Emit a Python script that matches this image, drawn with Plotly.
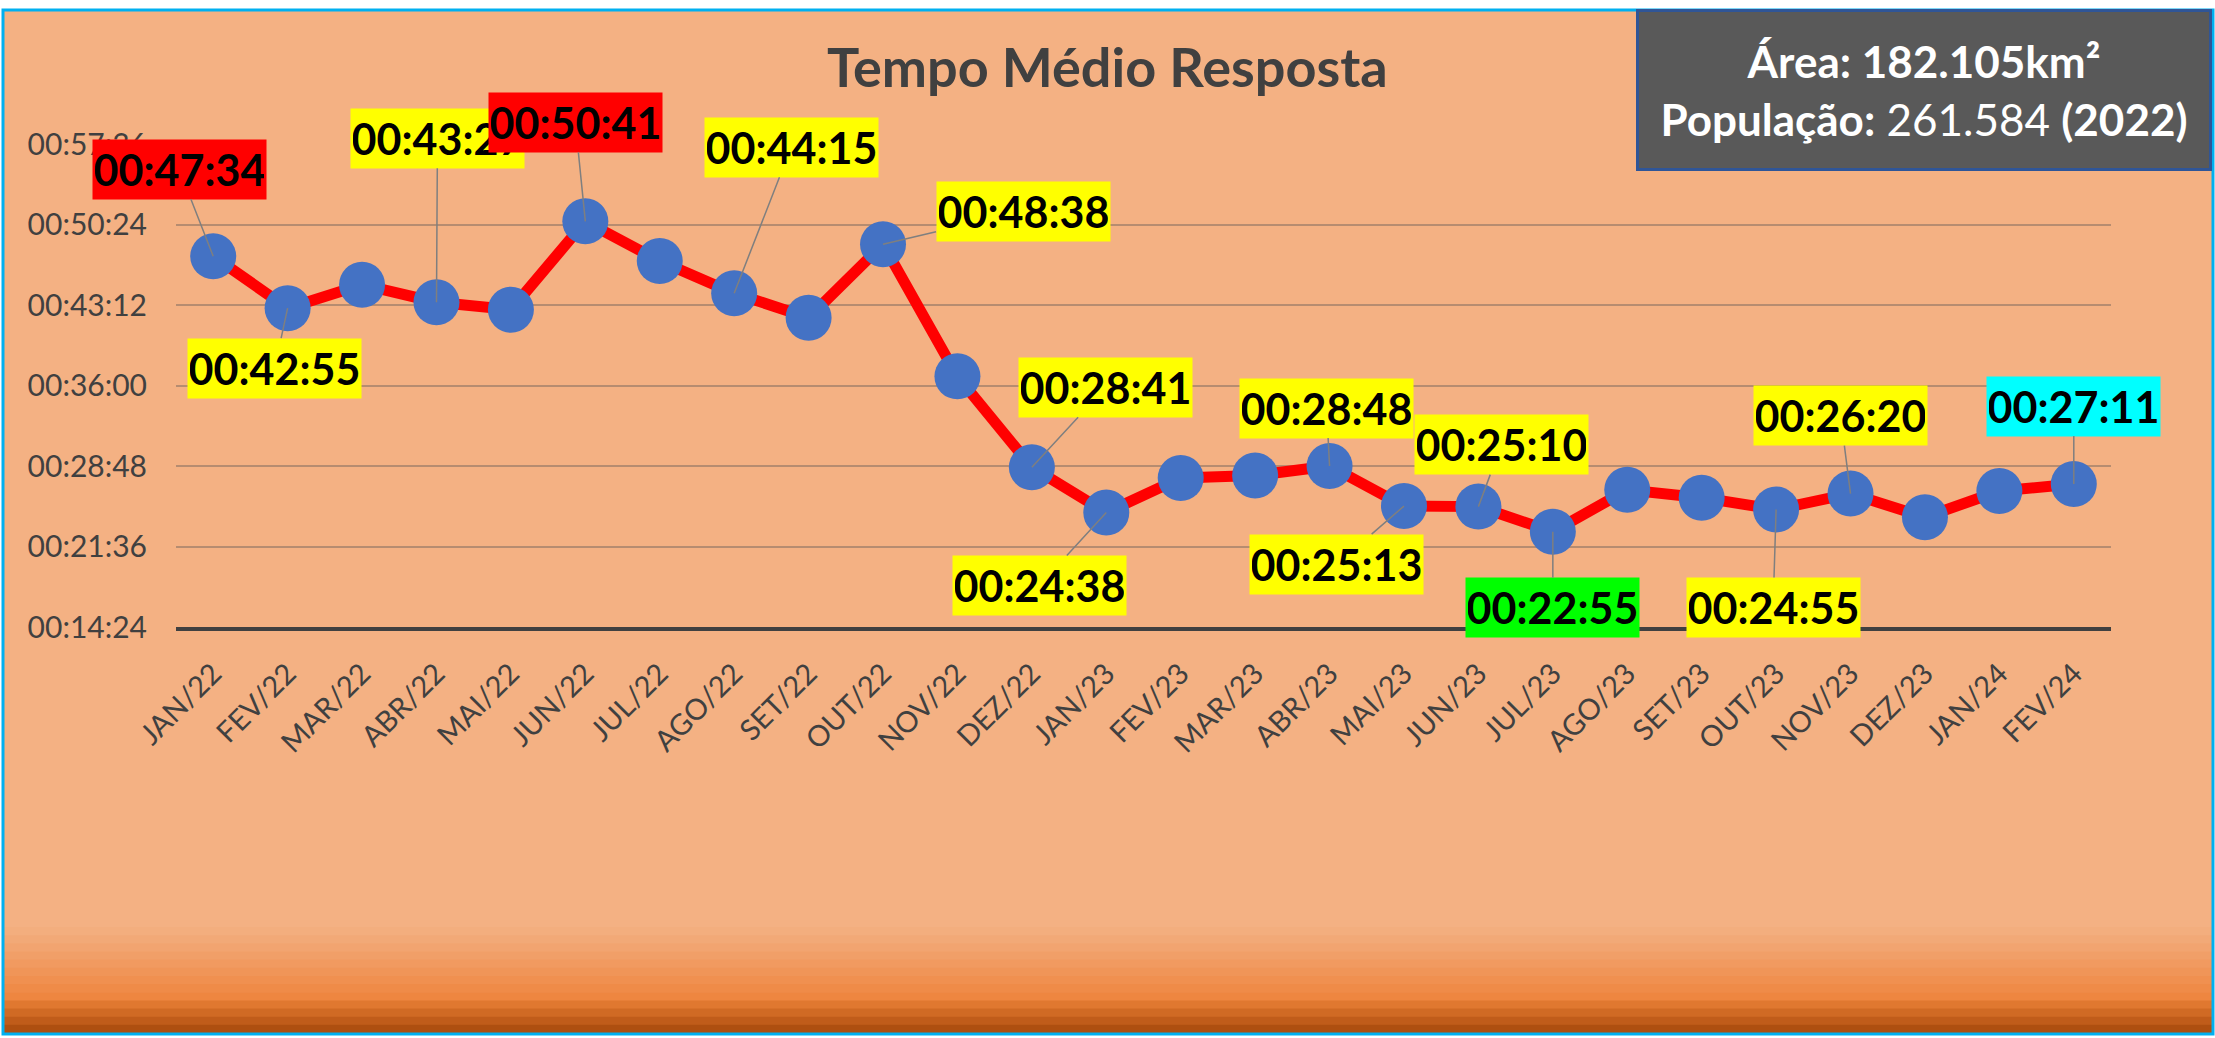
import plotly.graph_objects as go

# ---------------- data ----------------
months = ["JAN/22", "FEV/22", "MAR/22", "ABR/22", "MAI/22", "JUN/22", "JUL/22", "AGO/22",
          "SET/22", "OUT/22", "NOV/22", "DEZ/22", "JAN/23", "FEV/23", "MAR/23", "ABR/23",
          "MAI/23", "JUN/23", "JUL/23", "AGO/23", "SET/23", "OUT/23", "NOV/23", "DEZ/23",
          "JAN/24", "FEV/24"]
tempo = ["00:47:34", "00:42:55", "00:45:01", "00:43:27", "00:42:47", "00:50:41", "00:47:08",
         "00:44:15", "00:42:04", "00:48:38", "00:36:49", "00:28:41", "00:24:38", "00:27:44",
         "00:27:57", "00:28:48", "00:25:13", "00:25:10", "00:22:55", "00:26:40", "00:25:58",
         "00:24:55", "00:26:20", "00:24:13", "00:26:34", "00:27:11"]
y_tick_labels = ["00:14:24", "00:21:36", "00:28:48", "00:36:00", "00:43:12", "00:50:24", "00:57:36"]

# label background colour per labelled month
label_colors = {
    "JAN/22": "#FF0000", "FEV/22": "#FFFF00", "ABR/22": "#FFFF00", "JUN/22": "#FF0000",
    "AGO/22": "#FFFF00", "OUT/22": "#FFFF00", "DEZ/22": "#FFFF00", "JAN/23": "#FFFF00",
    "ABR/23": "#FFFF00", "MAI/23": "#FFFF00", "JUN/23": "#FFFF00", "JUL/23": "#00FF00",
    "OUT/23": "#FFFF00", "NOV/23": "#FFFF00", "FEV/24": "#00FFFF",
}

title_text = "Tempo Médio Resposta"
info_line1 = "<b>Área: 182.105km²</b>"
info_line2 = "<b>População:</b> 261.584 <b>(2022)</b>"

# ---------------- layout / style (positions, not data) ----------------
W, H = 2215, 1038
PL, PR, PT, PB = 176, 2111, 144, 627          # plot area in pixels
label_offsets = {  # pixel offsets of label box centre from point
    "JAN/22": (-34, -87), "FEV/22": (-13, 60), "ABR/22": (1, -164), "JUN/22": (-10, -99),
    "AGO/22": (57, -146), "OUT/22": (140, -33), "DEZ/22": (74, -80), "JAN/23": (-67, 73),
    "ABR/23": (-3, -58), "MAI/23": (-67, 58), "JUN/23": (23, -62), "JUL/23": (0, 76),
    "OUT/23": (-3, 98), "NOV/23": (-10, -78), "FEV/24": (0, -78),
}
gradient_colors = ["#F3AE7E", "#F2A977", "#F2A470", "#F19F68", "#F19A60", "#F09558",
                   "#F09050", "#EF8B48", "#EE8640", "#E07830", "#D06A24", "#C05C1A", "#AE4F10"]
FONT = "Lato"


def to_sec(s):
    h, m, sec = (int(p) for p in s.split(":"))
    return h * 3600 + m * 60 + sec


def px_x(p):
    return (p - PL) / (PR - PL)


def px_y(p):
    return (PB - p) / (PB - PT)


secs = [to_sec(t) for t in tempo]
tickvals = [to_sec(t) for t in y_tick_labels]

fig = go.Figure()
fig.add_trace(go.Scatter(
    x=months, y=secs, mode="lines+markers",
    line=dict(color="#FF0000", width=11),
    marker=dict(color="#4472C4", size=46, line=dict(width=0)),
    hoverinfo="skip", showlegend=False,
))

shapes = []
# chart frame background
shapes.append(dict(type="rect", xref="paper", yref="paper", layer="below",
                   x0=px_x(3), x1=px_x(2213), y0=px_y(1034), y1=px_y(10),
                   fillcolor="#F4B183", line=dict(width=0)))
# bottom gradient strips
g0, g1 = 927, 1033
step = (g1 - g0) / len(gradient_colors)
for k, c in enumerate(gradient_colors):
    shapes.append(dict(type="rect", xref="paper", yref="paper", layer="below",
                       x0=px_x(3), x1=px_x(2213),
                       y0=px_y(g0 + (k + 1) * step + 0.5), y1=px_y(g0 + k * step),
                       fillcolor=c, line=dict(width=0)))
# frame border
shapes.append(dict(type="rect", xref="paper", yref="paper", layer="below",
                   x0=px_x(3), x1=px_x(2213), y0=px_y(1034), y1=px_y(10),
                   fillcolor="rgba(0,0,0,0)", line=dict(color="#00B0F0", width=3)))

annotations = []
# title
annotations.append(dict(xref="paper", yref="paper", x=px_x(1107), y=px_y(67),
                        xanchor="center", yanchor="middle", showarrow=False,
                        text=f"<b>{title_text}</b>",
                        font=dict(family=FONT, size=54, color="#404040")))
# data labels
for m, v, t in zip(months, secs, tempo):
    if m not in label_colors:
        continue
    ax, ay = label_offsets[m]
    annotations.append(dict(
        x=m, y=v, xref="x", yref="y", text=f"<b>{t}</b>",
        font=dict(family=FONT, size=43, color="#000000"),
        bgcolor=label_colors[m], borderpad=2, width=169, height=55,
        showarrow=True, arrowhead=0, arrowwidth=1.5, arrowcolor="#7F7F7F",
        ax=ax, ay=ay, standoff=0,
    ))
# info box
annotations.append(dict(
    xref="paper", yref="paper", x=px_x(1924), y=px_y(90),
    xanchor="center", yanchor="middle", showarrow=False,
    text=info_line1 + "<br>" + info_line2,
    font=dict(family=FONT, size=44, color="#FFFFFF"),
    bgcolor="#595959", bordercolor="#2F5597", borderwidth=3, borderpad=0,
    width=570, height=156, align="center",
))

fig.update_layout(
    width=W, height=H,
    margin=dict(l=PL, r=W - PR, t=PT, b=H - PB, pad=0),
    paper_bgcolor="#FFFFFF", plot_bgcolor="rgba(0,0,0,0)",
    shapes=shapes, annotations=annotations, showlegend=False,
    font=dict(family=FONT),
)
fig.update_xaxes(
    type="category", range=[-0.5, len(months) - 0.5],
    showgrid=False, showline=True, linecolor="#404040", linewidth=4,
    tickangle=-45, tickfont=dict(family=FONT, size=29, color="#404040"),
    ticks="", ticklabelstandoff=14, zeroline=False,
)
fig.update_yaxes(
    range=[tickvals[0], tickvals[-1]], tickvals=tickvals, ticktext=y_tick_labels,
    showgrid=True, gridcolor="#B68C70", gridwidth=1.5, zeroline=False, showline=False,
    tickfont=dict(family=FONT, size=30, color="#404040"), ticks="", ticklabelstandoff=28,
)

fig.write_html("out.html", config={"displayModeBar": False},
               post_script="document.body.style.margin='0';document.body.style.overflow='hidden';")
